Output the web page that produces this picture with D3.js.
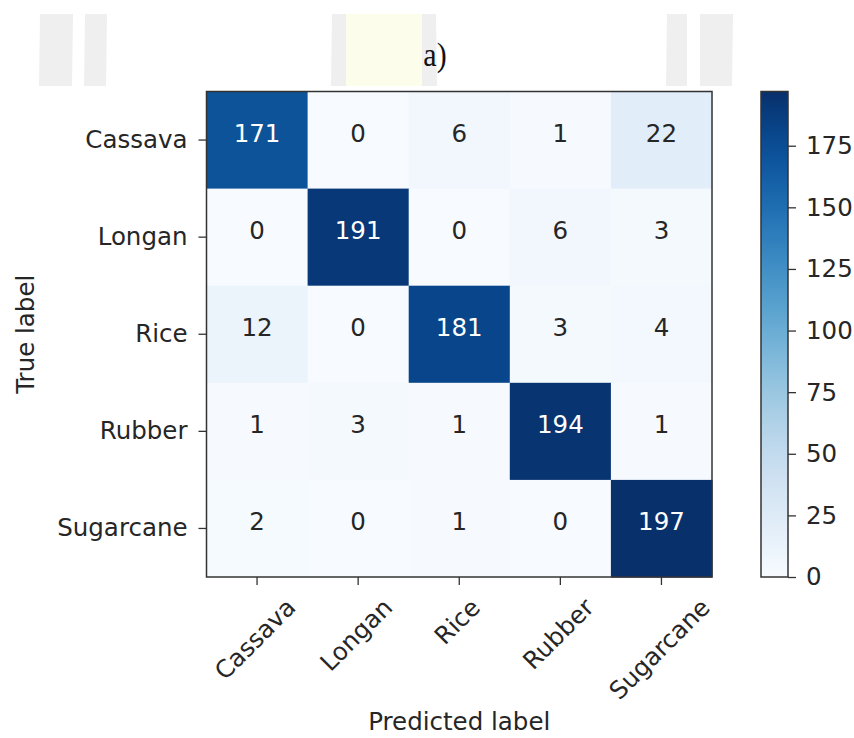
<!DOCTYPE html>
<html>
<head>
<meta charset="utf-8">
<script src="https://cdn.jsdelivr.net/npm/d3@7"></script>
<style>
  html, body { margin: 0; padding: 0; background: #fff; }
  text { font-family: "DejaVu Sans", sans-serif; }
</style>
</head>
<body>
<div id="visual"></div>
<script>
// categories and confusion matrix values (rows = true, cols = predicted)
const classes = ["Cassava", "Longan", "Rice", "Rubber", "Sugarcane"];
const cassavaRow = [171, 0, 6, 1, 22];
const longanRow = [0, 191, 0, 6, 3];
const riceRow = [12, 0, 181, 3, 4];
const rubberRow = [1, 3, 1, 194, 1];
const sugarcaneRow = [2, 0, 1, 0, 197];
const matrix = [cassavaRow, longanRow, riceRow, rubberRow, sugarcaneRow];
const colorbarTicks = [0, 25, 50, 75, 100, 125, 150, 175];
const title = "a)";

const W = 854, H = 738;
const plotLeft = 206.5, plotTop = 91.5, plotWidth = 505.5, plotHeight = 485.5;
const cbLeft = 761, cbWidth = 27;
const fontSize = 24.5;
const textColor = "#262626";

const cells = [];
matrix.forEach((row, i) => row.forEach((v, j) => cells.push({ r: classes[i], c: classes[j], v })));
const vmax = d3.max(cells, d => d.v);

const svg = d3.select("#visual").append("svg")
    .attr("width", W)
    .attr("height", H);

// faint watermark shapes behind the title
const wm = svg.append("g");
const bars = [
    [[40, 14], [73, 14], [72, 86], [39, 86], "#efefef"],
    [[85, 14], [107, 14], [106, 86], [84, 86], "#efefef"],
    [[332, 14], [346, 14], [346, 86], [331, 86], "#efefef"],
    [[346, 14], [422, 14], [422, 86], [346, 86], "#fdfdec"],
    [[422, 14], [436, 14], [437, 86], [422, 86], "#efefef"],
    [[667, 14], [687, 14], [687, 86], [666, 86], "#efefef"],
    [[700, 14], [733, 14], [732, 86], [700, 86], "#efefef"]
];
bars.forEach(b => {
    wm.append("polygon")
        .attr("points", b.slice(0, 4).map(p => p.join(",")).join(" "))
        .attr("fill", b[4]);
});

svg.append("text")
    .attr("transform", "translate(435,66) scale(1,1.12)")
    .attr("text-anchor", "middle")
    .style("font-family", "'Liberation Serif', 'Times New Roman', serif")
    .style("font-size", "30px")
    .attr("fill", "#111")
    .text(title);

const x = d3.scaleBand().domain(classes).range([plotLeft, plotLeft + plotWidth]);
const y = d3.scaleBand().domain(classes).range([plotTop, plotTop + plotHeight]);
const color = v => d3.interpolateBlues(v / vmax);

// heatmap cells
svg.append("g").selectAll("rect")
    .data(cells)
    .join("rect")
    .attr("x", d => x(d.c))
    .attr("y", d => y(d.r))
    .attr("width", x.bandwidth() + 0.5)
    .attr("height", y.bandwidth() + 0.5)
    .attr("fill", d => color(d.v));

svg.append("g").selectAll("text")
    .data(cells)
    .join("text")
    .attr("x", d => x(d.c) + x.bandwidth() / 2)
    .attr("y", d => y(d.r) + y.bandwidth() / 2 - 7)
    .attr("text-anchor", "middle")
    .attr("dominant-baseline", "central")
    .style("font-size", fontSize + "px")
    .attr("fill", d => d.v > vmax / 2 ? "#fff" : textColor)
    .text(d => d.v);

svg.append("rect")
    .attr("x", plotLeft).attr("y", plotTop)
    .attr("width", plotWidth).attr("height", plotHeight)
    .attr("fill", "none")
    .attr("stroke", "#333")
    .attr("stroke-width", 1.5);

// y axis
const yAxis = svg.append("g")
    .attr("transform", `translate(${plotLeft},0)`)
    .call(d3.axisLeft(y).tickSize(8).tickPadding(11));
yAxis.select(".domain").remove();
yAxis.selectAll("line").attr("stroke", "#333").attr("stroke-width", 1.3);
yAxis.selectAll("text")
    .style("font-size", fontSize + "px")
    .style("font-family", "'DejaVu Sans', sans-serif")
    .attr("fill", textColor);

// x axis with rotated labels
const xAxis = svg.append("g")
    .attr("transform", `translate(0,${plotTop + plotHeight})`)
    .call(d3.axisBottom(x).tickSize(8));
xAxis.select(".domain").remove();
xAxis.selectAll("line").attr("stroke", "#333").attr("stroke-width", 1.3);
xAxis.selectAll("text")
    .style("font-size", fontSize + "px")
    .style("font-family", "'DejaVu Sans', sans-serif")
    .attr("fill", textColor)
    .attr("text-anchor", "middle")
    .attr("dominant-baseline", "central")
    .attr("dy", null)
    .each(function () {
        const w = this.getComputedTextLength();
        const h = fontSize * 1.15;
        const half = (w + h) * Math.SQRT1_2 / 2;
        d3.select(this).attr("y", 0)
            .attr("transform", `translate(-2,${16 + half}) rotate(-45)`);
    });

svg.append("text")
    .attr("x", plotLeft + plotWidth / 2)
    .attr("y", 730)
    .attr("text-anchor", "middle")
    .style("font-size", fontSize + "px")
    .attr("fill", textColor)
    .text("Predicted label");

svg.append("text")
    .attr("transform", `translate(25,${plotTop + plotHeight / 2}) rotate(-90)`)
    .attr("text-anchor", "middle")
    .attr("dominant-baseline", "central")
    .style("font-size", fontSize + "px")
    .attr("fill", textColor)
    .text("True label");

// colorbar
const cb = d3.scaleLinear().domain([0, vmax]).range([plotTop + plotHeight, plotTop]);
const defs = svg.append("defs");
const grad = defs.append("linearGradient")
    .attr("id", "cbgrad")
    .attr("x1", 0).attr("y1", 1).attr("x2", 0).attr("y2", 0);
d3.range(0, 1.0001, 0.05).forEach(t => {
    grad.append("stop").attr("offset", t).attr("stop-color", d3.interpolateBlues(t));
});
svg.append("rect")
    .attr("x", cbLeft).attr("y", plotTop)
    .attr("width", cbWidth).attr("height", plotHeight)
    .attr("fill", "url(#cbgrad)")
    .attr("stroke", "#333")
    .attr("stroke-width", 1.5);

const cbAxis = svg.append("g")
    .attr("transform", `translate(${cbLeft + cbWidth},0)`)
    .call(d3.axisRight(cb).tickValues(colorbarTicks).tickSize(8).tickPadding(10));
cbAxis.select(".domain").remove();
cbAxis.selectAll("line").attr("stroke", "#333").attr("stroke-width", 1.3);
cbAxis.selectAll("text")
    .style("font-size", fontSize + "px")
    .style("font-family", "'DejaVu Sans', sans-serif")
    .attr("fill", textColor);
</script>
</body>
</html>
